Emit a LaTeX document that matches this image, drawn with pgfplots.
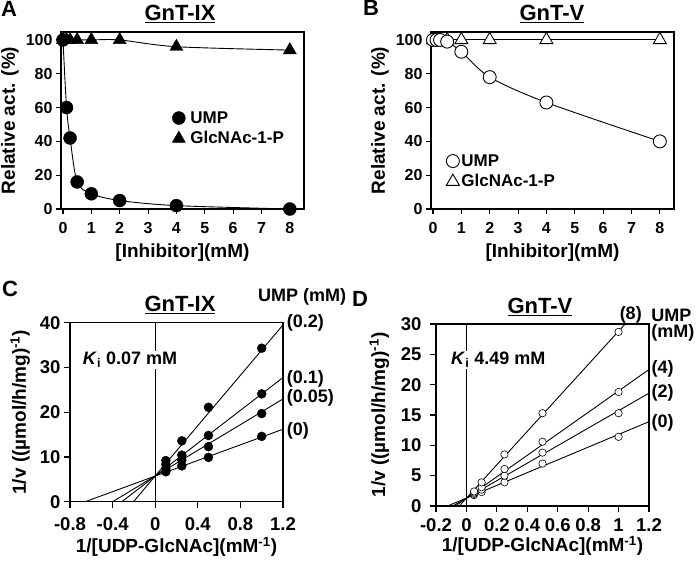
\documentclass[border=0pt]{standalone}
\usepackage{fontspec}
\setmainfont{Liberation Sans}
\usepackage{pgfplots}
\pgfplotsset{compat=1.18}
\newcommand{\tf}{\fontsize{16}{19}\selectfont\bfseries}
\newcommand{\tff}{\fontsize{18.5}{21}\selectfont\bfseries}
\newcommand{\lf}{\fontsize{19}{22}\selectfont\bfseries}
\newcommand{\gf}{\fontsize{17}{20}\selectfont\bfseries}
\newcommand{\af}{\fontsize{18}{21}\selectfont\bfseries}
\newcommand{\hf}{\fontsize{22}{25}\selectfont\bfseries}
\pgfplotsset{
  base/.style={
    scale only axis, anchor=south west, clip=false,
    axis line style={line width=1.1pt},
    tick style={line width=1.1pt, black},
    major tick length=5pt,
    tick align=outside,
    xtick pos=bottom, ytick pos=left,
    ticklabel style={font=\tf},
    label style={font=\lf},
    /pgf/number format/assume math mode=true,
  }
}
\pgfplotstableread{
x y
0 100
0.125 60
0.25 42
0.5 16
1 9
2 5
4 2
8 0
}\Aump
\pgfplotstableread{
x y
0 100
0.125 100
0.25 100
0.5 100
1 100
2 100
4 96
8 94
}\Aglc
\pgfplotstableread{
x y
0 100
0.125 100
0.25 100
0.5 99
1 93
2 78
4 63
8 40
}\Bump
\pgfplotstableread{
x y
0 100
0.125 100
0.25 100
0.5 100
1 100
2 100
4 100
8 100
}\Bglc
\begin{document}
\begin{tikzpicture}[x=1pt,y=1pt]
\path[use as bounding box] (0,0) rectangle (700,560);
% Panel A
\begin{axis}[base, at={(61pt,351pt)}, width=243pt, height=177pt,
  xmin=-0.07, xmax=8.5, ymin=0, ymax=104.7,
  xtick={0,...,8}, ytick={0,20,...,100},
  xticklabel style={yshift=-5pt}, xlabel style={yshift=-3pt},
  xlabel={[Inhibitor](mM)}, ylabel={Relative act. (\%)},
  legend style={draw=none, fill=none, font=\gf, at={(axis description cs:0.445,0.455)}, anchor=west, row sep=3pt, column sep=3pt},
  legend cell align=left, reverse legend]
\addplot[black, line width=0.9pt, smooth, tension=0.5, forget plot] table {\Aump};
\addplot[black, line width=0.9pt, smooth, tension=0.5, forget plot] table {\Aglc};
\addplot[only marks, mark=triangle*, mark size=7.5pt, black] table {\Aglc};
\addlegendentry{GlcNAc-1-P}
\addplot[only marks, mark=*, mark size=6.5pt, black] table {\Aump};
\addlegendentry{UMP}
\end{axis}
% Panel B
\begin{axis}[base, at={(431pt,351pt)}, width=243pt, height=177pt,
  xmin=-0.07, xmax=8.5, ymin=0, ymax=104.7,
  xtick={0,...,8}, ytick={0,20,...,100},
  xticklabel style={yshift=-5pt}, xlabel style={yshift=-3pt},
  xlabel={[Inhibitor](mM)}, ylabel={Relative act. (\%)},
  legend style={draw=none, fill=none, font=\gf, at={(axis description cs:0.05,0.212)}, anchor=west, row sep=3pt},
  legend cell align=left, reverse legend]
\addplot[black, line width=0.9pt, smooth, tension=0.5, forget plot] table {\Bump};
\addplot[black, line width=0.9pt, forget plot] table {\Bglc};
\addplot[only marks, mark=triangle*, mark size=7.5pt, black, fill=white, line width=0.9pt] table {\Bglc};
\addlegendentry{GlcNAc-1-P}
\addplot[only marks, mark=*, mark size=6.5pt, black, fill=white, line width=0.9pt] table {\Bump};
\addlegendentry{UMP}
\end{axis}
% Panel C
\begin{axis}[base, at={(70pt,58.3pt)}, width=213pt, height=179pt,
  ticklabel style={font=\tff}, major tick length=6pt,
  xticklabel style={yshift=-6pt}, xlabel style={yshift=0pt}, ylabel style={yshift=3pt},
  xmin=-0.8, xmax=1.2, ymin=0, ymax=40,
  xtick={-0.8,-0.4,0,0.4,0.8,1.2}, xticklabels={-0.8,-0.4,0,0.4,0.8,1.2},
  ytick={0,10,...,40},
  xlabel={1/[UDP-GlcNAc](mM\textsuperscript{-1})},
  ylabel={1/v ((\textmu mol/h/mg)\textsuperscript{-1})}]
\addplot[black, line width=1pt] coordinates {(0,0) (0,40)};
\addplot[black, line width=0.9pt] coordinates {(-0.657,0) (1.2,16.2)};
\addplot[black, line width=0.9pt] coordinates {(-0.40,0) (1.2,22.96)};
\addplot[black, line width=0.9pt] coordinates {(-0.313,0) (1.2,27.75)};
\addplot[black, line width=0.9pt] coordinates {(-0.204,0) (1.2,39.5)};
\addplot[only marks, mark=*, mark size=4.5pt, black] coordinates {(0.1,6.7) (0.25,8.0) (0.5,9.9) (1,14.6)};
\addplot[only marks, mark=*, mark size=4.5pt, black] coordinates {(0.1,7.4) (0.25,9.3) (0.5,12.3) (1,19.7)};
\addplot[only marks, mark=*, mark size=4.5pt, black] coordinates {(0.1,8.3) (0.25,10.4) (0.5,14.8) (1,24.1)};
\addplot[only marks, mark=*, mark size=4.5pt, black] coordinates {(0.1,9.2) (0.25,13.6) (0.5,21.1) (1,34.3)};
\node[anchor=west, fill=white, inner sep=1pt, font=\af] at (axis cs:-0.69,31.7) {\textit{K}\textsubscript{i} 0.07 mM};
\node[anchor=west, font=\af, inner sep=1pt] at (axis cs:1.225,39.9) {(0.2)};
\node[anchor=west, font=\af, inner sep=1pt] at (axis cs:1.225,27.4) {(0.1)};
\node[anchor=west, font=\af, inner sep=1pt] at (axis cs:1.225,23.2) {(0.05)};
\node[anchor=west, font=\af, inner sep=1pt] at (axis cs:1.225,15.9) {(0)};
\node[font=\af] at (axis cs:1.38,45.8) {UMP (mM)};
\end{axis}
% Panel D
\begin{axis}[base, at={(436pt,54pt)}, width=213pt, height=182pt,
  ticklabel style={font=\tff}, major tick length=6pt,
  xticklabel style={yshift=-3pt}, yticklabel style={xshift=-5pt},
  xlabel style={yshift=2pt}, ylabel style={yshift=5pt},
  xmin=-0.2, xmax=1.2, ymin=0, ymax=30,
  xtick={-0.2,0,0.2,0.4,0.6,0.8,1,1.2}, xticklabels={-0.2,0,0.2,0.4,0.6,0.8,1,1.2},
  ytick={0,5,...,30},
  xlabel={1/[UDP-GlcNAc](mM\textsuperscript{-1})},
  ylabel={1/v ((\textmu mol/h/mg)\textsuperscript{-1})}]
\addplot[black, line width=1pt] coordinates {(0,0) (0,30)};
\addplot[black, line width=0.9pt] coordinates {(-0.124,0) (1.2,13.9)};
\addplot[black, line width=0.9pt] coordinates {(-0.09,0) (1.2,18.6)};
\addplot[black, line width=0.9pt] coordinates {(-0.073,0) (1.2,22.5)};
\addplot[black, line width=0.9pt] coordinates {(-0.047,0) (1.043,30)};
\addplot[only marks, mark=*, mark size=3.7pt, black, fill=white, line width=0.6pt] coordinates {(0.05,1.8) (0.1,2.3) (0.25,3.9) (0.5,7.0) (1,11.4)};
\addplot[only marks, mark=*, mark size=3.7pt, black, fill=white, line width=0.6pt] coordinates {(0.05,2.0) (0.1,2.7) (0.25,5.0) (0.5,8.8) (1,15.3)};
\addplot[only marks, mark=*, mark size=3.7pt, black, fill=white, line width=0.6pt] coordinates {(0.05,2.2) (0.1,3.1) (0.25,6.1) (0.5,10.6) (1,18.8)};
\addplot[only marks, mark=*, mark size=3.7pt, black, fill=white, line width=0.6pt] coordinates {(0.05,2.4) (0.1,3.9) (0.25,8.5) (0.5,15.3) (1,28.7)};
\node[anchor=west, fill=white, inner sep=1pt, font=\af] at (axis cs:-0.108,24.05) {\textit{K}\textsubscript{i} 4.49 mM};
\node[font=\af] at (axis cs:1.08,31.5) {(8)};
\node[anchor=west, font=\af, inner sep=1pt] at (axis cs:1.21,22.6) {(4)};
\node[anchor=west, font=\af, inner sep=1pt] at (axis cs:1.21,18.6) {(2)};
\node[anchor=west, font=\af, inner sep=1pt] at (axis cs:1.21,13.7) {(0)};
\node[anchor=west, font=\af, inner sep=0pt] at (axis cs:1.215,31.5) {UMP};
\node[anchor=west, font=\af, inner sep=0pt] at (axis cs:1.215,28.5) {(mM)};
\end{axis}
% titles and letters
\node[anchor=base, font=\hf] at (180,539) {\underline{GnT-IX}};
\node[anchor=base, font=\hf] at (552,539) {\underline{GnT-V}};
\node[anchor=base, font=\hf] at (180,248.3) {\underline{GnT-IX}};
\node[anchor=base, font=\hf] at (540,246.7) {\underline{GnT-V}};
\node[anchor=base west, inner sep=0pt, font=\hf] at (1,543.3) {A};
\node[anchor=base west, inner sep=0pt, font=\hf] at (363,544) {B};
\node[anchor=base west, inner sep=0pt, font=\hf] at (2,264) {C};
\node[anchor=base west, inner sep=0pt, font=\hf] at (352,254) {D};
\end{tikzpicture}
\end{document}
